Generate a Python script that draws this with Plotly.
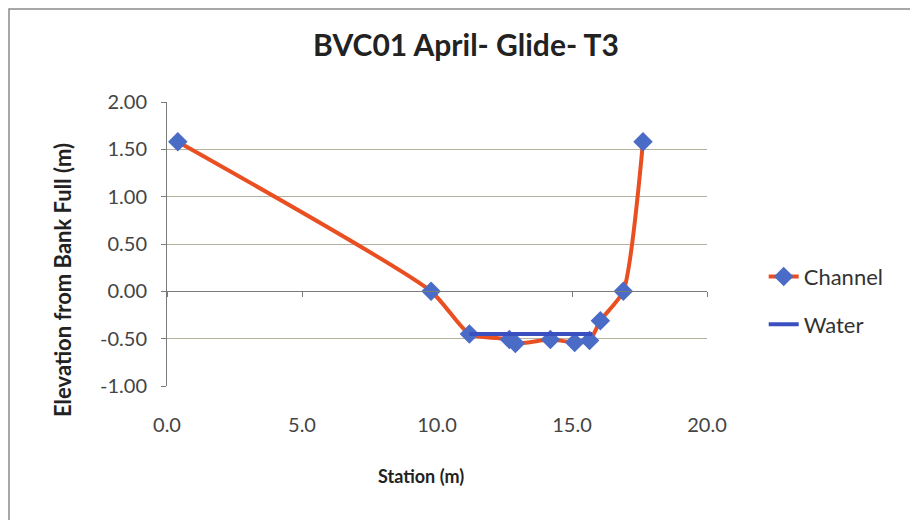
import plotly.graph_objects as go

# channel cross-section survey points
station = [0.4, 9.78, 11.2, 12.68, 12.9, 14.2, 15.1, 15.65, 16.05, 16.9, 17.63]
elevation = [1.58, 0.0, -0.45, -0.51, -0.55, -0.51, -0.54, -0.52, -0.31, 0.0, 1.58]

water_station = [11.2, 15.75]
water_elev = [-0.45, -0.45]

x_ticks = [0, 5, 10, 15, 20]
y_ticks = [-1.0, -0.5, 0.0, 0.5, 1.0, 1.5, 2.0]

FONT = "Lato, 'Open Sans', sans-serif"
GRID = "#B3B39E"
AXIS = "#7A7A7A"

# the page adds an 8px body margin, so the figure is 8px smaller than the window
W, H = 910, 512
L, T, R, B = 159, 94, 211, 134
PW, PH = W - L - R, H - T - B

fig = go.Figure()
fig.add_trace(go.Scatter(
    x=station, y=elevation, name="Channel", mode="lines+markers", legendgroup="c",
    line=dict(color="#EA4F22", width=4, shape="spline", smoothing=0.6),
    marker=dict(symbol="diamond", size=15, color="#4A6BC6"),
))
fig.add_trace(go.Scatter(
    x=water_station, y=water_elev, name="Water", mode="lines", legendgroup="w",
    line=dict(color="#3A50C0", width=4),
))
# empty trace so the overlaid x axis through y=0 gets drawn
fig.add_trace(go.Scatter(x=[], y=[], xaxis="x2", showlegend=False, hoverinfo="skip"))

fig.update_layout(
    width=W, height=H,
    margin=dict(l=L, r=R, t=T, b=B, autoexpand=False),
    paper_bgcolor="white", plot_bgcolor="white",
    font=dict(family=FONT, color="#333333", size=20),
    title=dict(text="<b>BVC01 April- Glide- T3</b>", x=458 / W, xanchor="center",
               xref="container", y=1 - 37 / H, yanchor="middle",
               font=dict(size=30, color="#222222")),
    showlegend=True,
    legend=dict(x=1.105, y=0.30, xanchor="left", yanchor="middle",
                font=dict(size=22, color="#333333"), tracegroupgap=16,
                bgcolor="rgba(0,0,0,0)"),
    xaxis=dict(
        range=[0, 20], tickvals=x_ticks, ticktext=[f"{v:.1f}" for v in x_ticks],
        showgrid=False, zeroline=False, showline=False, ticks="",
        automargin=False, ticklabelstandoff=25, tickfont=dict(size=20, color="#444444"),
    ),
    xaxis2=dict(
        range=[0, 20], tickvals=x_ticks, overlaying="x", anchor="free",
        position=1 / 3, showticklabels=False, showgrid=False, zeroline=False,
        showline=True, linecolor=AXIS, linewidth=1,
        ticks="outside", ticklen=5, tickcolor=AXIS,
    ),
    yaxis=dict(
        range=[-1.0, 2.0], tickvals=y_ticks, ticktext=[f"{v:.2f}" for v in y_ticks],
        showgrid=True, gridcolor=GRID, gridwidth=1, zeroline=False, automargin=False,
        showline=True, linecolor=AXIS, linewidth=1, ticks="outside",
        ticklen=5, tickcolor=AXIS, ticklabelstandoff=10,
        tickfont=dict(size=20, color="#444444"),
    ),
)

# axis titles sit a little off-centre in the original, so place them by hand
fig.add_annotation(text="<b>Station (m)</b>", xref="paper", yref="paper",
                   x=(421 - 167) / 540, y=-(476 - 386) / 284, showarrow=False,
                   xanchor="center", yanchor="middle",
                   font=dict(size=18, color="#222222"))
fig.add_annotation(text="<b>Elevation from Bank Full (m)</b>", xref="paper", yref="paper",
                   x=-(167 - 62) / 540, y=(386 - 280) / 284, showarrow=False,
                   textangle=-90, xanchor="center", yanchor="middle",
                   font=dict(size=22, color="#222222"))

# outer chart frame, cut off at the right and bottom like the scan
fig.add_shape(type="rect", xref="paper", yref="paper",
              x0=(1 - L) / PW, x1=(W + 20 - L) / PW,
              y0=-(B + 20) / PH, y1=(PH + T - 1) / PH,
              line=dict(color="#8A8A8A", width=1.5), layer="below")

fig.write_html("out.html")
